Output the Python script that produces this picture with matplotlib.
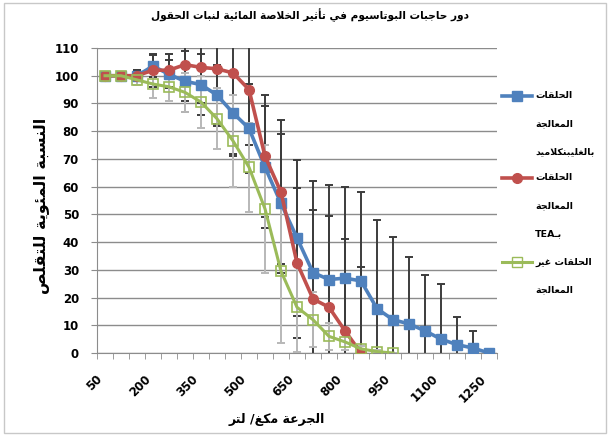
import numpy as np
import matplotlib
matplotlib.use('Agg')
import matplotlib.pyplot as plt
from matplotlib.lines import Line2D
from matplotlib.patches import Rectangle

# ---------------- data ----------------
doses = [50, 100, 150, 200, 250, 300, 350, 400, 450, 500, 550, 600, 650,
         700, 750, 800, 850, 900, 950, 1000, 1050, 1100, 1150, 1200, 1250]
tick_labels = ['50', '200', '350', '500', '650', '800', '950', '1100', '1250']

glib = [100, 100, 100, 103.5, 100.5, 98, 96.8, 93, 86.6, 81, 67, 54, 41.5,
        29, 26.5, 27, 26, 16, 12, 10.5, 8, 5, 3, 1.8, 0]
glib_err = [0, 1, 2, 4, 5, 11, 11, 11, 15, 16, 22, 25, 28,
            33, 34, 33, 32, 32, 30, 24, 20, 20, 10, 6, 0]

tea = [100, 100, 100, 102, 102, 104, 103, 102.5, 101, 95, 71, 58, 32.5,
       19.5, 16.5, 8, 0]
tea_err = [0, 1, 2, 6, 6, 13, 13, 20, 30, 20, 22, 26, 27,
           32, 33, 33, 31]

ctrl = [100, 100, 98.5, 97, 96, 94, 90.5, 84.5, 76.5, 67, 52, 29.5, 16.5,
        12, 6, 4, 1.5, 0.5, 0]
ctrl_err = [0, 1, 2, 5, 5, 7, 9.5, 11, 16.5, 16, 23, 26, 16,
            10, 5, 3, 1, 0.5, 0]

title_txt = 'دور حاجبات البوتاسيوم في تأثير الخلاصة المائية لنبات الحقول'
ylabel_txt = 'النسبة المئوية للتقلص'
xlabel_txt = 'الجرعة مكغ/ لتر'
legend_lines = [
    ['الحلقات', 'المعالجة', 'بالغليبنكلاميد'],
    ['الحلقات', 'المعالجة', 'بـTEA'],
    ['الحلقات غير', 'المعالجة'],
]

# ------------- Arabic shaping (presentation forms + visual order) -------------
DUAL = {'\u0626': 0xFE89, '\u0628': 0xFE8F, '\u062A': 0xFE95, '\u062B': 0xFE99,
        '\u062C': 0xFE9D, '\u062D': 0xFEA1, '\u062E': 0xFEA5, '\u0633': 0xFEB1,
        '\u0634': 0xFEB5, '\u0635': 0xFEB9, '\u0636': 0xFEBD, '\u0637': 0xFEC1,
        '\u0638': 0xFEC5, '\u0639': 0xFEC9, '\u063A': 0xFECD, '\u0641': 0xFED1,
        '\u0642': 0xFED5, '\u0643': 0xFED9, '\u0644': 0xFEDD, '\u0645': 0xFEE1,
        '\u0646': 0xFEE5, '\u0647': 0xFEE9, '\u064A': 0xFEF1}
RIGHT = {'\u0622': 0xFE81, '\u0623': 0xFE83, '\u0624': 0xFE85, '\u0625': 0xFE87,
         '\u0627': 0xFE8D, '\u0629': 0xFE93, '\u062F': 0xFEA9, '\u0630': 0xFEAB,
         '\u0631': 0xFEAD, '\u0632': 0xFEAF, '\u0648': 0xFEED, '\u0649': 0xFEEF}
LAMALEF = {'\u0622': 0xFEF5, '\u0623': 0xFEF7, '\u0625': 0xFEF9, '\u0627': 0xFEFB}
TATWEEL = '\u0640'


def _joins_fwd(c):
    return c in DUAL or c == TATWEEL


def _is_ar(c):
    return c in DUAL or c in RIGHT or c == TATWEEL


def shape(s):
    out = []
    i, n = 0, len(s)
    while i < n:
        c = s[i]
        prev = s[i - 1] if i > 0 else ''
        pc = _joins_fwd(prev) and _is_ar(c)
        if c == '\u0644' and i + 1 < n and s[i + 1] in LAMALEF:
            b = LAMALEF[s[i + 1]]
            out.append(chr(b + 1 if pc else b))
            i += 2
            continue
        nxt = s[i + 1] if i + 1 < n else ''
        nc = _joins_fwd(c) and _is_ar(nxt)
        if c == TATWEEL:
            out.append(c)
        elif c in DUAL:
            b = DUAL[c]
            off = 3 if (pc and nc) else (1 if pc else (2 if nc else 0))
            out.append(chr(b + off))
        elif c in RIGHT:
            b = RIGHT[c]
            out.append(chr(b + 1 if pc else b))
        else:
            out.append(c)
        i += 1
    return ''.join(out)


def ar(s):
    sh = shape(s)
    runs = []
    for ch in sh:
        ltr = ch.isascii() and ch.isalnum()
        if runs and runs[-1][0] == ltr:
            runs[-1][1].append(ch)
        else:
            runs.append([ltr, [ch]])
    return ''.join(''.join(r) if l else ''.join(r[::-1]) for l, r in reversed(runs))


# ---------------- figure ----------------
W, H = 610, 436
FONT = 'DejaVu Sans'
plt.rcParams['font.family'] = [FONT]
fig = plt.figure(figsize=(W / 100, H / 100), dpi=100)
fig.patches.append(Rectangle((4 / W, 3 / H), 1 - 8 / W, 1 - 6 / H, transform=fig.transFigure,
                             fill=False, ec='#c8c8c8', lw=1))

ax = fig.add_axes([97 / W, 1 - 353 / H, 400 / W, 305 / H])

BLUE, RED, GREEN = '#4F81BD', '#C0504D', '#9BBB59'
DARK, LIGHT = '#3c3c3c', '#b8b8b8'

xb = np.arange(len(glib))
xr = np.arange(len(tea))
xg = np.arange(len(ctrl))

ax.errorbar(xb, glib, yerr=glib_err, fmt='none', ecolor=DARK, elinewidth=1.4,
            capsize=3, capthick=1.4, zorder=2)
ax.errorbar(xr, tea, yerr=tea_err, fmt='none', ecolor=DARK, elinewidth=1.4,
            capsize=3, capthick=1.4, zorder=2)
ax.errorbar(xg, ctrl, yerr=ctrl_err, fmt='none', ecolor=LIGHT, elinewidth=1.4,
            capsize=3, capthick=1.4, zorder=2)

ax.plot(xb, glib, color=BLUE, lw=2.6, marker='s', ms=7, mfc=BLUE, mec=BLUE, zorder=4)
ax.plot(xr, tea, color=RED, lw=2.6, marker='o', ms=7, mfc=RED, mec=RED, zorder=5)
ax.plot(xg, ctrl, color=GREEN, lw=2.2, marker='s', ms=7, mfc='none', mec=GREEN,
        mew=1.2, zorder=6)

ax.set_xlim(-0.5, len(doses) - 0.5)
ax.set_ylim(0, 110)
ax.set_yticks(np.arange(0, 111, 10))
ax.grid(axis='y', color='#8c8c8c', lw=1)
ax.set_axisbelow(True)
for sp in ['top', 'right']:
    ax.spines[sp].set_visible(False)
for sp in ['left', 'bottom']:
    ax.spines[sp].set_color('#8c8c8c')

tick_pos = [doses.index(int(t)) for t in tick_labels]
ax.set_xticks(tick_pos)
ax.set_xticklabels(tick_labels, rotation=45, ha='right', fontsize=8.5, fontweight='bold')
ax.set_xticks(np.arange(-0.5, len(doses), 1), minor=True)
ax.tick_params(axis='x', which='major', length=0, pad=14)
ax.tick_params(axis='x', which='minor', length=4, color='#8c8c8c')
ax.tick_params(axis='y', length=4, color='#8c8c8c', pad=9, labelsize=8.5)
for lb in ax.get_yticklabels():
    lb.set_fontweight('bold')

# titles
fig.text(310 / W, 1 - 15 / H, ar(title_txt), ha='center', va='center',
         fontsize=7.6, fontweight='bold')
fig.text(42 / W, 1 - 206 / H, ar(ylabel_txt), ha='center', va='center',
         rotation=90, fontsize=11.5, fontweight='bold')
fig.text(277 / W, 1 - 419 / H, ar(xlabel_txt), ha='center', va='center',
         fontsize=9, fontweight='bold')

# legend (drawn manually: handle beside first line of each wrapped label)
leg_y0 = [96, 178, 262]
line_h = 28
styles = [dict(color=BLUE, marker='s', mfc=BLUE, mec=BLUE, lw=2.6),
          dict(color=RED, marker='o', mfc=RED, mec=RED, lw=2.6),
          dict(color=GREEN, marker='s', mfc='none', mec=GREEN, lw=2.2)]
for y0, lines, st in zip(leg_y0, legend_lines, styles):
    yf = 1 - y0 / H
    fig.add_artist(Line2D([502 / W, 517 / W, 532 / W], [yf, yf, yf],
                          transform=fig.transFigure, ms=7, markevery=[1], **st))
    for k, t in enumerate(lines):
        fig.text(535 / W, 1 - (y0 + k * line_h) / H, ar(t), ha='left', va='center',
                 fontsize=6.8, fontweight='bold')

fig.savefig('out.png', dpi=100)
